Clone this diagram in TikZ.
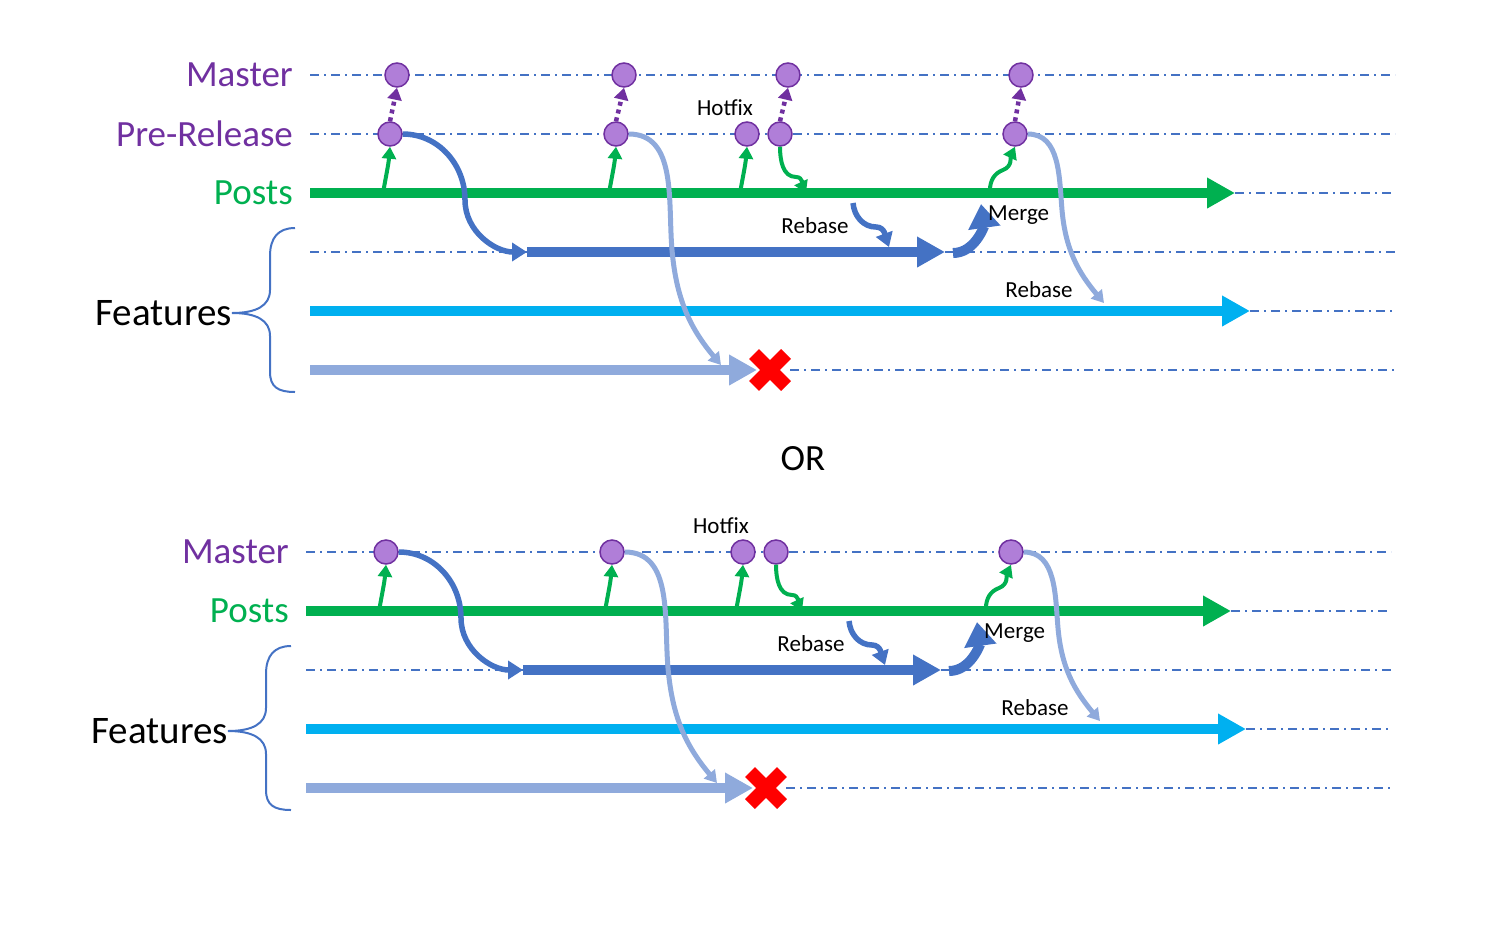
\documentclass[tikz,border=0pt]{standalone}
\usepackage{fontspec}
\setmainfont{Carlito}
\usetikzlibrary{arrows.meta}

\definecolor{mpurple}{HTML}{7030A0}
\definecolor{lpurple}{HTML}{B07ED8}
\definecolor{mgreen}{HTML}{00B050}
\definecolor{mblue}{HTML}{4472C4}
\definecolor{mcyan}{HTML}{00B0F0}
\definecolor{lblue}{HTML}{8FAADC}

\tikzset{
  commit/.style={circle, draw=mpurple, fill=lpurple, line width=1.5pt, minimum size=24pt, inner sep=0pt},
  rail/.style={draw=mblue, line width=1.5pt, dash pattern=on 9pt off 5pt on 2pt off 5pt},
  trunk/.style={line width=10pt, -{Triangle[length=28pt,width=29pt]}},
  hop/.style={line width=4pt, -{Triangle[length=12pt,width=14pt]}},
  promote/.style={draw=mpurple, line width=4.5pt, dash pattern=on 4pt off 4pt, -{Triangle[length=12pt,width=14pt]}},
  lbl/.style={font=\fontsize{37}{40}\selectfont, anchor=east, inner sep=0pt},
  note/.style={font=\fontsize{23}{26}\selectfont, inner sep=0pt}
}

% rows, commits and arrows shared by both variants
\newcommand{\branches}[1]{
  \node[lbl, text=mpurple] (lb) at (293,134) {#1};
  \node[lbl, text=mgreen] (lp) at (293,193) {Posts};
  \node[lbl, text=black, font=\fontsize{39}{42}\selectfont] (lf) at (232,313) {Features};

  % background rails
  \draw[rail] (310,134) -- (1395,134);
  \draw[rail] (1235,193) -- (1395,193);
  \draw[rail] (310,252) -- (527,252);
  \draw[rail] (945,252) -- (1395,252);
  \draw[rail] (1250,311) -- (1395,311);
  \draw[rail] (790,370) -- (1395,370);

  % brace
  \draw[mblue, line width=2pt] (295,228) .. controls (278,228) and (270,238) .. (270,256)
    -- (270,290) .. controls (270,306) and (256,313) .. (lf.east)
    .. controls (256,313) and (270,320) .. (270,336)
    -- (270,372) .. controls (270,387) and (278,392) .. (295,392);

  % trunks
  \coordinate (ps) at (310,193);  \coordinate (pe) at (1235,193);
  \coordinate (f1s) at (527,252); \coordinate (f1e) at (945,252);
  \coordinate (f2s) at (310,311); \coordinate (f2e) at (1250,311);
  \coordinate (f3s) at (310,370); \coordinate (f3e) at (757,370);
  \draw[trunk, mgreen] (ps) -- (pe);
  \draw[trunk, mcyan] (f2s) -- (f2e);
  \draw[trunk, lblue] (f3s) -- (f3e);
  \draw[trunk, mblue] (f1s) -- (f1e);

  % dropped feature
  \node (xx) at (770,370) {};
  \draw[red, line width=14pt] (754,354) -- (786,386);
  \draw[red, line width=14pt] (754,386) -- (786,354);

  % commits
  \node[commit] (c1) at (390,134) {};
  \node[commit] (c2) at (616,134) {};
  \node[commit] (h1) at (747,134) {};
  \node[commit] (h2) at (780,134) {};
  \node[commit] (c3) at (1015,134) {};

  % releases from posts
  \draw[hop, mgreen] (383,193) to[out=80,in=-95] (c1.south);
  \draw[hop, mgreen] (609,193) to[out=80,in=-95] (c2.south);
  \draw[hop, mgreen] (740,193) to[out=80,in=-95] (h1.south);
  \draw[hop, mgreen] (h2.south) to[out=-90,in=180] (796,177) to[out=0,in=115] (pe -| 806,186);
  \draw[hop, mgreen] (990,190) to[out=90,in=200] (1003,170) to[out=20,in=-115] (c3.south);

  % features branching off
  \draw[hop, mblue, line width=5.5pt, -{Triangle[length=15pt,width=18pt]}]
    (c1.east) to[out=0,in=90] (465,200) to[out=-90,in=180] (f1s);
  \draw[hop, lblue, line width=5pt] (c2.east) to[out=0,in=95] (672,250) to[out=-85,in=130] (721,365);
  \draw[hop, lblue, line width=5pt] (c3.east) to[out=0,in=95] (1062,210) to[out=-85,in=130] (1104,303);

  % rebase and merge of the first feature
  \draw[hop, mblue, line width=5.5pt, -{Triangle[length=14pt,width=17pt]}]
    (853,203) to[out=-85,in=180] (876,227) to[out=0,in=110] (889,247);
  \draw[mblue, line width=10pt, -{Triangle[length=24pt,width=31pt]}]
    (953,253) to[out=0,in=-82] (981,204);

  \node[note] (hf) at (725,108) {Hotfix};
  \node[note] (rb1) at (815,226) {Rebase};
  \node[note, anchor=west] (mg) at (988,215) {Merge};
  \node[note] (rb2) at (1039,290) {Rebase};
}

\begin{document}
\begin{tikzpicture}[x=1pt, y=-1pt]
  \useasboundingbox (0,0) rectangle (1494,930);

  % with a pre-release branch
  \begin{scope}
    \branches{Pre-Release}
    \node[lbl, text=mpurple] (lm) at (293,75) {Master};
    \draw[rail] (310,75) -- (1395,75);
    \node[commit] (m1) at (397,75) {};
    \node[commit] (m2) at (624,75) {};
    \node[commit] (m3) at (788,75) {};
    \node[commit] (m4) at (1021,75) {};
    \draw[promote] (c1.north) -- (m1.south);
    \draw[promote] (c2.north) -- (m2.south);
    \draw[promote] (h2.north) -- (m3.south);
    \draw[promote] (c3.north) -- (m4.south);
  \end{scope}

  \node[font=\fontsize{37}{40}\selectfont] (or) at (803,459) {OR};

  % without it
  \begin{scope}[shift={(-4,418)}]
    \branches{Master}
  \end{scope}
\end{tikzpicture}
\end{document}
